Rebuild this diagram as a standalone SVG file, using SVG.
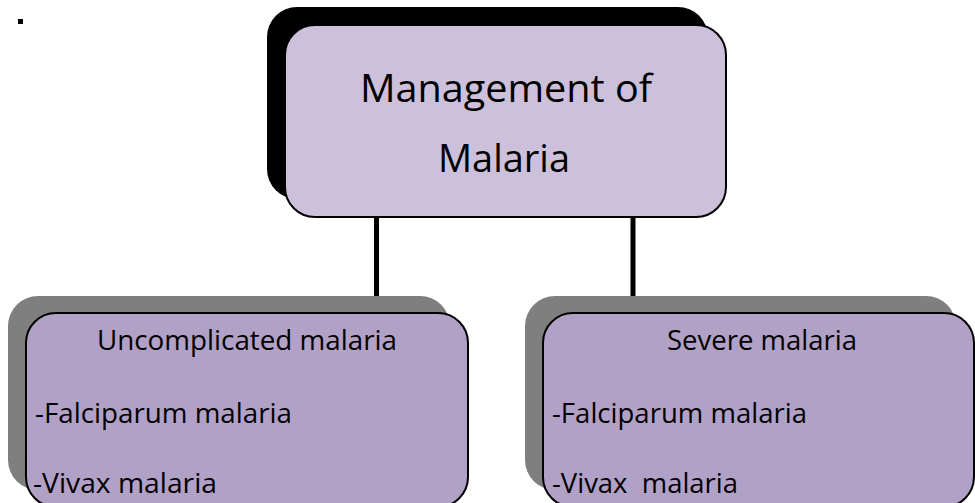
<svg xmlns="http://www.w3.org/2000/svg" width="975" height="503" viewBox="0 0 975 503">
<style>
.t{font-family:"Open Sans","Liberation Sans",sans-serif;fill:#000}
.big{font-size:38px}
.sm{font-size:27px}
.front{stroke:#000;stroke-width:2}
</style>
<rect width="975" height="503" fill="#ffffff"/>
<rect x="18" y="19" width="5" height="5" fill="#000"/>
<g id="connectors" stroke="#000" fill="none">
<path d="M376.5 217 V313" stroke-width="5"/>
<path d="M633 217 V313" stroke-width="5"/>
<path d="M247 311.5 H378" stroke-width="3"/>
<path d="M631 311.5 H762" stroke-width="3"/>
</g>
<g id="node-management">
<rect x="267" y="7" width="441" height="192" rx="30" fill="#000"/>
<rect class="front" x="285" y="25" width="441" height="192" rx="30" fill="#CCC0DA"/>
<text class="t big" x="360" y="102" textLength="292" lengthAdjust="spacingAndGlyphs">Management of</text>
<text class="t big" x="438" y="172" textLength="132" lengthAdjust="spacingAndGlyphs">Malaria</text>
</g>
<g id="node-uncomplicated">
<rect x="8" y="296" width="442" height="194" rx="30" fill="#7F7F7F"/>
<rect class="front" x="26" y="313" width="442" height="194" rx="30" fill="#B2A1C7"/>
<text class="t sm" x="97" y="350" textLength="300" lengthAdjust="spacingAndGlyphs">Uncomplicated malaria</text>
<text class="t sm" x="35" y="423" textLength="257" lengthAdjust="spacingAndGlyphs">-Falciparum malaria</text>
<text class="t sm" x="33" y="493" textLength="184" lengthAdjust="spacingAndGlyphs">-Vivax malaria</text>
</g>
<g id="node-severe">
<rect x="525" y="296" width="431" height="194" rx="30" fill="#7F7F7F"/>
<rect class="front" x="543" y="313" width="431" height="194" rx="30" fill="#B2A1C7"/>
<text class="t sm" x="667" y="350" textLength="190" lengthAdjust="spacingAndGlyphs">Severe malaria</text>
<text class="t sm" x="552" y="423" textLength="255" lengthAdjust="spacingAndGlyphs">-Falciparum malaria</text>
<text class="t sm" x="552" y="493" textLength="186" lengthAdjust="spacingAndGlyphs" xml:space="preserve">-Vivax  malaria</text>
</g>
</svg>
